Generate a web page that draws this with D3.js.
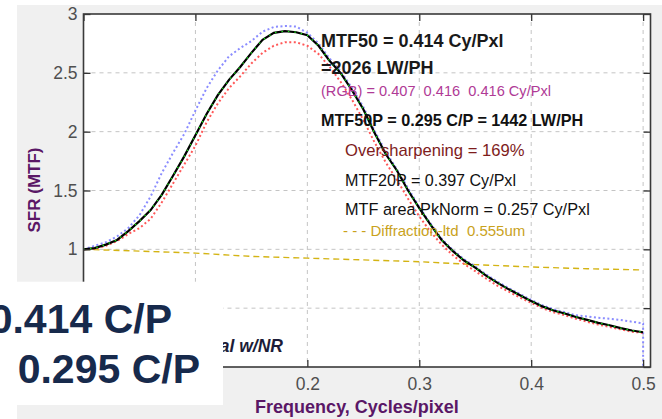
<!DOCTYPE html>
<html><head><meta charset="utf-8">
<script src="https://cdn.jsdelivr.net/npm/d3@7"></script>
<style>
body{margin:0;background:#fff}
svg{display:block}
text{font-family:"Liberation Sans",Arial,Helvetica,sans-serif}
</style>
</head><body>
<svg id="chart" width="662" height="419"></svg>
<script>
// ---- data ----
const freq = [0,0.01,0.02,0.03,0.04,0.05,0.06,0.07,0.08,0.09,0.10,0.11,0.12,0.13,0.14,0.15,0.16,0.17,0.18,0.19,0.20,
  0.21,0.22,0.23,0.24,0.25,0.26,0.27,0.28,0.29,0.30,0.31,0.32,0.33,0.34,0.35,0.36,0.37,0.38,0.39,0.40,
  0.41,0.42,0.43,0.44,0.45,0.46,0.47,0.48,0.49,0.50];
const blackValues = [1.00,1.01,1.04,1.08,1.155,1.24,1.334,1.465,1.625,1.79,1.97,2.15,2.31,2.44,2.55,2.67,2.78,2.84,2.855,2.845,2.82,
  2.73,2.60,2.496,2.35,2.19,1.99,1.81,1.67,1.50,1.35,1.21,1.08,0.985,0.905,0.845,0.775,0.715,0.66,0.61,0.56,
  0.515,0.48,0.455,0.425,0.40,0.375,0.355,0.33,0.31,0.295];
const greenValues = [1.00,1.01,1.04,1.08,1.155,1.24,1.334,1.465,1.625,1.79,1.97,2.15,2.31,2.44,2.55,2.67,2.78,2.84,2.855,2.845,2.82,
  2.73,2.60,2.496,2.35,2.19,1.99,1.81,1.67,1.50,1.35,1.21,1.08,0.985,0.905,0.845,0.775,0.715,0.66,0.61,0.56,
  0.515,0.48,0.455,0.425,0.40,0.375,0.355,0.33,0.31,0.295];
const blueFreq = freq.concat([0.50]);
const blueValues = [1.00,1.03,1.06,1.11,1.18,1.29,1.45,1.65,1.82,1.98,2.18,2.37,2.52,2.64,2.71,2.77,2.85,2.89,2.898,2.894,2.84,
  2.75,2.62,2.51,2.37,2.21,2.01,1.83,1.68,1.52,1.36,1.22,1.09,0.995,0.915,0.855,0.785,0.725,0.67,0.62,0.57,
  0.525,0.49,0.465,0.44,0.43,0.418,0.41,0.40,0.385,0.37,0];
const redValues = [1.00,1.005,1.03,1.07,1.13,1.18,1.26,1.40,1.56,1.72,1.88,2.08,2.24,2.37,2.47,2.58,2.67,2.73,2.76,2.76,2.73,
  2.66,2.55,2.42,2.27,2.10,1.91,1.74,1.59,1.43,1.28,1.15,1.04,0.95,0.875,0.815,0.75,0.69,0.64,0.59,0.545,
  0.50,0.465,0.44,0.41,0.385,0.36,0.34,0.32,0.30,0.29];
const diffFreq = [0,0.05,0.10,0.15,0.20,0.25,0.30,0.35,0.40,0.45,0.50];
const diffValues = [1.0,0.985,0.968,0.94,0.925,0.91,0.895,0.87,0.85,0.835,0.825];
const xTicks = [0,0.1,0.2,0.3,0.4,0.5];
const yTicks = [0,0.5,1,1.5,2,2.5,3];
// labels hidden behind the overlay box in the reference are left blank
const xTickLabels = ["","","0.2","0.3","0.4","0.5"];
const yTickLabels = ["","","1","1.5","2","2.5","3"];
const annotations = [
  {t:"MTF50 = 0.414 Cy/Pxl", x:321, y:46.5, s:18, w:"bold", c:"#1a1a1a"},
  {t:"=2026 LW/PH", x:321, y:73.5, s:18, w:"bold", c:"#1a1a1a"},
  {t:"(RGB) = 0.407  0.416  0.416 Cy/Pxl", x:321, y:96, s:14.6, w:"normal", c:"#b03a96"},
  {t:"MTF50P = 0.295 C/P = 1442 LW/PH", x:321, y:126, s:16.2, w:"bold", c:"#111"},
  {t:"Oversharpening = 169%", x:345, y:156, s:16.6, w:"normal", c:"#7e1c1c"},
  {t:"MTF20P = 0.397 Cy/Pxl", x:345, y:186, s:16.1, w:"normal", c:"#111"},
  {t:"MTF area PkNorm = 0.257 Cy/Pxl", x:345, y:215, s:16.3, w:"normal", c:"#111"},
  {t:"- - - Diffraction-ltd  0.555um", x:343, y:236, s:15, w:"normal", c:"#c9a21c"}
];

// ---- layout ----
const svg = d3.select("#chart");
const L = 83.5, R = 650.5, T = 14, B = 367;
const x = d3.scaleLinear().domain([0, 0.5066]).range([L, R]);
const y = d3.scaleLinear().domain([0, 3]).range([B, T]);

svg.append("rect").attr("width",662).attr("height",419).attr("fill","#fff");
svg.append("rect").attr("x",17).attr("y",5).attr("width",645).attr("height",414).attr("fill","#f0f0f0");
svg.append("rect").attr("x",L).attr("y",T).attr("width",R-L).attr("height",B-T).attr("fill","#fff");

// grid
const grid = svg.append("g");
grid.selectAll(".gx").data(xTicks.filter(d=>d>0)).enter().append("line")
  .attr("x1",d=>x(d)).attr("x2",d=>x(d)).attr("y1",T).attr("y2",B)
  .attr("stroke","#c4c4c4").attr("stroke-dasharray","4,4").attr("stroke-width",1);
grid.selectAll(".gy").data(yTicks.filter(d=>d>0 && d<3)).enter().append("line")
  .attr("y1",d=>y(d)).attr("y2",d=>y(d)).attr("x1",L).attr("x2",R)
  .attr("stroke","#c4c4c4").attr("stroke-dasharray","4,4").attr("stroke-width",1);

// curves
svg.append("clipPath").attr("id","clip").append("rect").attr("x",L).attr("y",T).attr("width",R-L).attr("height",B-T);
const g = svg.append("g").attr("clip-path","url(#clip)");
const line = d3.line().x(d=>x(d[0])).y(d=>y(d[1]));
const zip = (a,b)=>a.map((v,i)=>[v,b[i]]);

g.append("path").attr("d", line(zip(diffFreq,diffValues))).attr("fill","none")
  .attr("stroke","#d4b414").attr("stroke-width",1.4).attr("stroke-dasharray","6,4");
g.append("path").attr("d", line(zip(blueFreq,blueValues))).attr("fill","none")
  .attr("stroke","#8a8cff").attr("stroke-width",2).attr("stroke-dasharray","2,2.5");
g.append("path").attr("d", line(zip(freq,redValues))).attr("fill","none")
  .attr("stroke","#ff5858").attr("stroke-width",2).attr("stroke-dasharray","2,2.5");
g.append("path").attr("d", line(zip(freq,blackValues))).attr("fill","none")
  .attr("stroke","#000").attr("stroke-width",2.2);
g.append("path").attr("d", line(zip(freq,greenValues))).attr("fill","none")
  .attr("stroke","#14e014").attr("stroke-width",1.3).attr("stroke-dasharray","1.5,5");

// axes (inward ticks)
const axB = d3.axisBottom(x).tickValues(xTicks).tickSize(-7).tickPadding(10.5).tickFormat((d,i)=>xTickLabels[i]);
const axL = d3.axisLeft(y).tickValues(yTicks).tickSize(-7).tickPadding(6).tickFormat((d,i)=>yTickLabels[i]);
const axT = d3.axisTop(x).tickValues(xTicks).tickSize(-7).tickFormat("");
const axR = d3.axisRight(y).tickValues(yTicks).tickSize(-7).tickFormat("");
function style(sel){
  sel.select(".domain").remove();
  sel.selectAll(".tick line").attr("stroke","#333").attr("stroke-width",1.3);
  sel.selectAll(".tick text").attr("fill","#4f4f4f").attr("font-size",17.5).attr("font-family",null);
  sel.selectAll(".tick text").filter(function(){ return this.textContent === ""; }).remove();
}
svg.append("g").attr("transform",`translate(0,${B})`).call(axB).call(style);
svg.append("g").attr("transform",`translate(${L},0)`).call(axL).call(style);
svg.append("g").attr("transform",`translate(0,${T})`).call(axT).call(style);
svg.append("g").attr("transform",`translate(${R},0)`).call(axR).call(style);

svg.append("rect").attr("x",L).attr("y",T).attr("width",R-L).attr("height",B-T)
  .attr("fill","none").attr("stroke","#3a3a3a").attr("stroke-width",1.6);

// annotations
svg.selectAll(".ann").data(annotations).enter().append("text")
  .attr("x",d=>d.x).attr("y",d=>d.y).attr("font-size",d=>d.s).attr("font-weight",d=>d.w)
  .attr("fill",d=>d.c).attr("xml:space","preserve").style("white-space","pre").text(d=>d.t);

// axis titles
svg.append("text").attr("x",357).attr("y",413).attr("text-anchor","middle")
  .attr("font-size",18).attr("font-weight","bold").attr("fill","#5a1766").text("Frequency, Cycles/pixel");
svg.append("text").attr("transform","translate(40,190) rotate(-90)").attr("text-anchor","middle")
  .attr("font-size",17).attr("font-weight","bold").attr("fill","#5a1766").text("SFR (MTF)");

// partially hidden legend text
svg.append("text").attr("x",283).attr("y",351.5).attr("text-anchor","end")
  .attr("font-size",17.5).attr("font-weight","bold").attr("font-style","italic").attr("fill","#1c1c38").text("al w/NR");

// overlay box
svg.append("rect").attr("x",0).attr("y",281.7).attr("width",223).attr("height",123.3).attr("fill","#fff");
svg.append("text").attr("x",172).attr("y",333.3).attr("text-anchor","end")
  .attr("font-size",41).attr("font-weight","bold").attr("fill","#172a4c").text("0.414 C/P");
svg.append("text").attr("x",200).attr("y",383.3).attr("text-anchor","end")
  .attr("font-size",41).attr("font-weight","bold").attr("fill","#172a4c").text("0.295 C/P");
</script>
</body></html>
